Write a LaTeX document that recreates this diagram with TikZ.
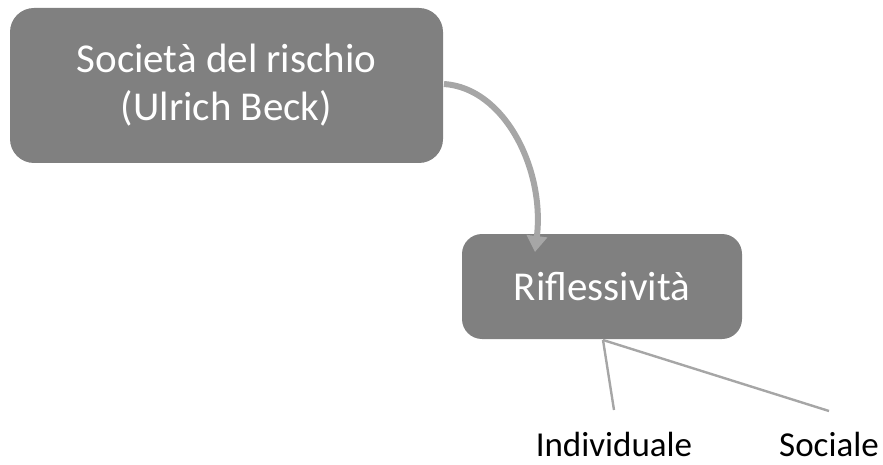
\documentclass[tikz,border=0pt]{standalone}
\usepackage{fontspec}
\setmainfont{Carlito}
\usetikzlibrary{arrows.meta}
\definecolor{boxgray}{HTML}{808080}
\definecolor{linegray}{HTML}{A6A6A6}
\begin{document}
\begin{tikzpicture}[x=1pt,y=-1pt,
  mainbox/.style={draw=none,fill=boxgray,rounded corners=24pt,text=white,inner sep=0pt,align=center},
  leaf/.style={inner sep=0pt,anchor=base,font=\fontsize{35}{42}\selectfont,text=black},
  branch/.style={draw=linegray,line width=2.4pt}]
\useasboundingbox (0,0) rectangle (883,465);
\node[mainbox,minimum width=433pt,minimum height=155pt,font=\fontsize{41}{48}\selectfont] (soc) at (226.5,85.5) {Società del rischio\\(Ulrich Beck)};
\node[mainbox,minimum width=280pt,minimum height=105pt,rounded corners=20pt,font=\fontsize{41}{48}\selectfont] (rif) at (602,286.5) {Riflessività};
\node[leaf] (ind) at (614,456) {Individuale};
\node[leaf] (soc2) at (829,456) {Sociale};
\coordinate (root) at (603,340);
\coordinate (indtop) at (614,410);
\coordinate (soctop) at (829,411);
\draw[branch] (root) -- (indtop);
\draw[branch] (root) -- (soctop);
\coordinate (astart) at (444,84);
\coordinate (aend) at (535,252);
\draw[draw=linegray,line width=6pt,-{Triangle[width=20pt,length=16pt]}] (astart) .. controls (505,88) and (545,170) .. (aend);
\end{tikzpicture}
\end{document}
